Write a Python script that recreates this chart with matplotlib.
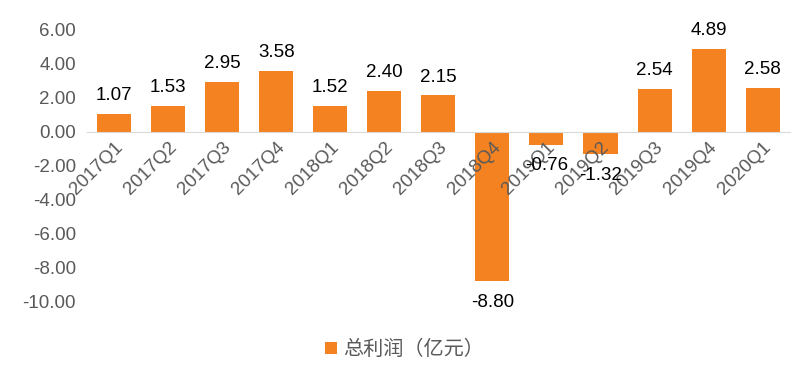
import matplotlib
matplotlib.use("Agg")
import matplotlib.pyplot as plt

plt.rcParams['font.family'] = ['Liberation Sans', 'Noto Sans CJK SC', 'DejaVu Sans']

# 季度与总利润（亿元）
quarters = ["2017Q1", "2017Q2", "2017Q3", "2017Q4", "2018Q1", "2018Q2", "2018Q3",
            "2018Q4", "2019Q1", "2019Q2", "2019Q3", "2019Q4", "2020Q1"]
profit = [1.07, 1.53, 2.95, 3.58, 1.52, 2.40, 2.15, -8.80, -0.76, -1.32, 2.54, 4.89, 2.58]

bar_color = "#F58220"
gray = "#595959"

fig = plt.figure(figsize=(8, 3.69), dpi=100)
ax = fig.add_axes([0.109, 0.182, 0.878, 0.737])

x = range(len(quarters))
bars = ax.bar(x, profit, width=0.63, color=bar_color, label="总利润（亿元）")

# 数据标签
for xi, v in zip(x, profit):
    if v >= 0:
        ax.annotate(f"{v:.2f}", (xi, v), xytext=(0, 7), textcoords="offset points",
                    ha="center", va="bottom", fontsize=13.5, color="black")
    else:
        ax.annotate(f"{v:.2f}", (xi, v), xytext=(0, -9), textcoords="offset points",
                    ha="center", va="top", fontsize=13.5, color="black")

ax.set_xlim(-0.5, len(quarters) - 0.5)
ax.set_ylim(-10, 6)
ax.set_yticks(range(-10, 7, 2))
ax.set_yticklabels([f"{t:.2f}" for t in range(-10, 7, 2)], fontsize=13.5, color=gray)

# 横轴放在零线
ax.spines['bottom'].set_position(('data', 0))
ax.spines['bottom'].set_color("#D9D9D9")
for s in ['top', 'right', 'left']:
    ax.spines[s].set_visible(False)
ax.set_xticks(list(x))
ax.set_xticklabels(quarters, rotation=45, ha="right", rotation_mode="anchor",
                   fontsize=13.5, color=gray)
ax.tick_params(axis='x', length=0, pad=5)
ax.tick_params(axis='y', length=0, pad=8)

leg = fig.legend(handles=[bars], labels=["总利润（亿元）"], loc="lower center",
                 bbox_to_anchor=(0.505, -0.025), frameon=False, fontsize=14.5,
                 handlelength=0.6, handleheight=0.6, handletextpad=0.3)
for t in leg.get_texts():
    t.set_color(gray)
    t.set_fontfamily(['Noto Sans CJK SC', 'DejaVu Sans'])

fig.savefig("out.png", dpi=100)
